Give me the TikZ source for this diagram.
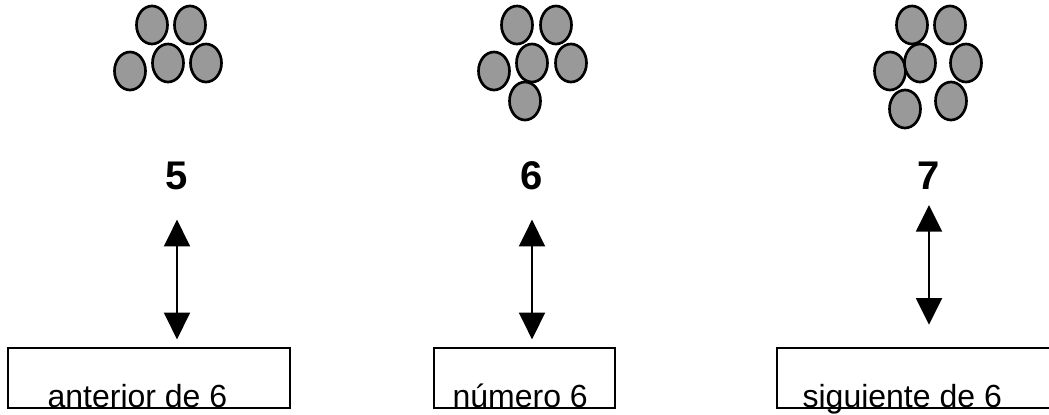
\documentclass[tikz,border=0pt]{standalone}
\usepackage{fontspec}
\setmainfont{Liberation Sans}
\usetikzlibrary{arrows.meta}
\definecolor{dotgray}{RGB}{153,153,153}
\tikzset{
  dot/.style={draw=black,fill=dotgray,line width=2pt},
  box/.style={draw,line width=1pt,minimum height=45pt,inner sep=0pt},
  numlbl/.style={font=\fontsize{30}{36}\selectfont\bfseries,inner sep=0pt,anchor=base},
  boxlbl/.style={font=\fontsize{24}{28}\selectfont,inner sep=0pt,anchor=base west},
  biarrow/.style={{Triangle[width=19.5pt,length=20pt]}-{Triangle[width=19.5pt,length=20pt]},line width=1.5pt},
}
\begin{document}
\begin{tikzpicture}[x=0.75pt,y=-0.75pt]
  \useasboundingbox (0,0) rectangle (1049,414);
  \clip (0,0) rectangle (1049,414);
  % Dot groups
  \foreach \cx/\cy in {152/25,190/25,130/71,168/63,206/63}
    \draw[dot] (\cx,\cy) ellipse (15.5 and 19);
  \foreach \cx/\cy in {517/25,556/25,494/71,532/63,571/63,525/101}
    \draw[dot] (\cx,\cy) ellipse (15.5 and 19);
  \foreach \cx/\cy in {912/25,950/25,890/71,966/63,920/63,905/109,951/101}
    \draw[dot] (\cx,\cy) ellipse (15.5 and 19);
  % Numbers
  \node[numlbl] (n5) at (177,189) {5};
  \node[numlbl] (n6) at (532,189) {6};
  \node[numlbl] (n7) at (929,189) {7};
  % Boxes
  \node[box,minimum width=211.5pt] (prev) at (149,378) {};
  \node[box,minimum width=135.75pt] (curr) at (524.5,378) {};
  \node[box,minimum width=300pt] (next) at (977,378) {};
  \node[boxlbl] (prevtxt) at ([xshift=30pt,yshift=1pt]prev.south west) {anterior de 6};
  \node[boxlbl] (currtxt) at ([xshift=14.25pt,yshift=1pt]curr.south west) {número 6};
  \node[boxlbl] (nexttxt) at ([xshift=19.5pt,yshift=1pt]next.south west) {siguiente de 6};
  % Arrows
  \draw[biarrow,shorten <=23pt,shorten >=6pt] (n5.base) -- (n5.base |- prev.north);
  \draw[biarrow,shorten <=23pt,shorten >=6pt] (n6.base) -- (n6.base |- curr.north);
  \draw[biarrow,shorten <=12pt,shorten >=17pt] (n7.base) -- (n7.base |- next.north);
\end{tikzpicture}
\end{document}
